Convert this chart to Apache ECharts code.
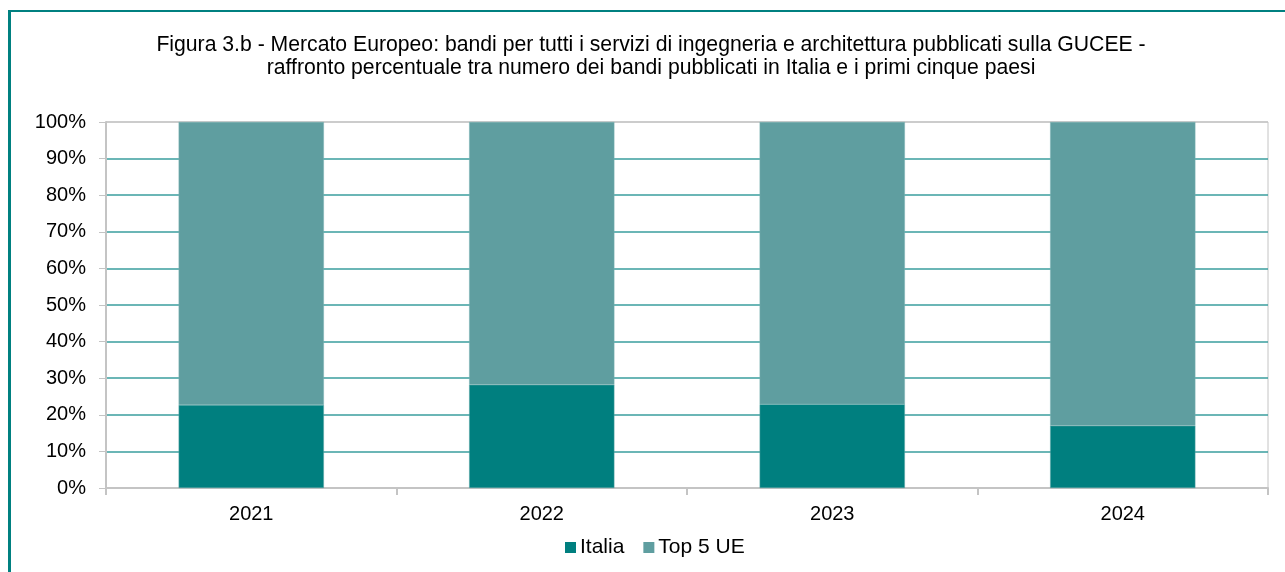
<!DOCTYPE html>
<html>
<head>
<meta charset="utf-8">
<script src="https://cdn.jsdelivr.net/npm/echarts@6/dist/echarts.min.js"></script>
<style>
html,body{margin:0;padding:0;background:#fff;}
#chart{width:1285px;height:572px;}
</style>
</head>
<body>
<div id="chart"></div>
<script>
const categories = ['2021', '2022', '2023', '2024'];
const italia = [22.7, 28.2, 22.9, 17.0];
const top5UE = [77.3, 71.8, 77.1, 83.0];
const seriesNames = ['Italia', 'Top 5 UE'];
const titleLines = [
  'Figura 3.b - Mercato Europeo: bandi per tutti i servizi di ingegneria e architettura pubblicati sulla GUCEE -',
  'raffronto percentuale tra numero dei bandi pubblicati in Italia e i primi cinque paesi'
];

const FONT = '"Liberation Sans", Arial, sans-serif';
const GRAY = '#c4c4c4';
const TEAL_GRID = '#3a9e9e';
const splitColors = [GRAY, TEAL_GRID, TEAL_GRID, TEAL_GRID, TEAL_GRID, TEAL_GRID, TEAL_GRID, TEAL_GRID, TEAL_GRID, TEAL_GRID, GRAY];

const chart = echarts.init(document.getElementById('chart'), null, {renderer: 'canvas'});
chart.setOption({
  animation: false,
  backgroundColor: '#fff',
  textStyle: {fontFamily: FONT},
  graphic: [
    {type: 'line', shape: {x1: 9.5, y1: 10, x2: 9.5, y2: 580}, style: {stroke: '#008080', lineWidth: 3}, z: 10},
    {type: 'line', shape: {x1: 8, y1: 11, x2: 1290, y2: 11}, style: {stroke: '#008080', lineWidth: 2}, z: 10},
    {type: 'text', x: 651, y: 34, style: {text: titleLines.join('\n'), textAlign: 'center', fill: '#000', font: '21.2px ' + FONT, lineHeight: 23}}
  ],
  grid: {left: 106, right: 17, top: 122, bottom: 84, show: true, borderColor: GRAY, borderWidth: 1},
  legend: {
    data: seriesNames,
    left: 560, top: 532,
    itemWidth: 11, itemHeight: 11, itemGap: 19,
    icon: 'rect',
    itemStyle: {borderWidth: 0},
    textStyle: {fontSize: 21, color: '#000', fontFamily: FONT, padding: [0, 0, 0, -1]}
  },
  xAxis: {
    type: 'category',
    data: categories,
    axisLine: {lineStyle: {color: GRAY, width: 2}},
    axisTick: {show: true, length: 7, lineStyle: {color: GRAY, width: 2}},
    axisLabel: {color: '#000', fontSize: 20, margin: 16, fontFamily: FONT}
  },
  yAxis: {
    type: 'value',
    min: 0, max: 100, interval: 10,
    axisLine: {show: true, lineStyle: {color: GRAY, width: 2}},
    axisTick: {show: true, length: 7, lineStyle: {color: GRAY, width: 1}},
    axisLabel: {color: '#000', fontSize: 20, margin: 20, formatter: '{value}%', fontFamily: FONT},
    splitLine: {show: true, lineStyle: {color: splitColors, width: 1.5}}
  },
  series: [
    {name: seriesNames[0], type: 'bar', stack: 'a', data: italia, barWidth: '50%',
     itemStyle: {color: '#007f7f', borderColor: '#5aa5a5', borderWidth: 0.5}},
    {name: seriesNames[1], type: 'bar', stack: 'a', data: top5UE, barWidth: '50%',
     itemStyle: {color: '#5f9ea0', borderColor: '#7ab3b3', borderWidth: 0.5}}
  ]
});
</script>
</body>
</html>
